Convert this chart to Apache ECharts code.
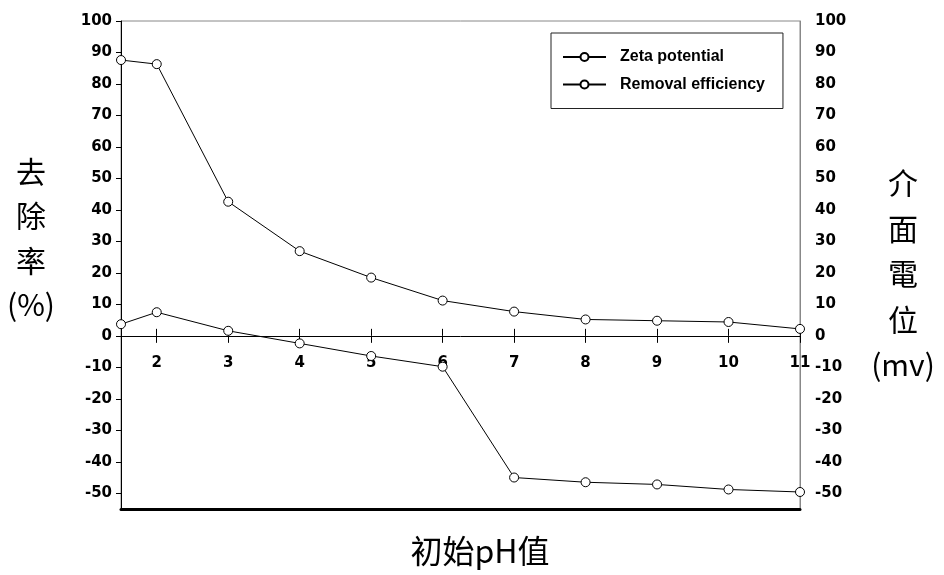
<!DOCTYPE html>
<html><head><meta charset="utf-8">
<script src="https://cdn.jsdelivr.net/npm/echarts@6/dist/echarts.min.js"></script>
<style>html,body{margin:0;padding:0;background:#fff}#c{width:944px;height:575px}</style>
</head><body><div id="c"></div>
<script>
const phValues = [1.5, 2, 3, 4, 5, 6, 7, 8, 9, 10, 11];
const zetaPotential = [3.7, 7.5, 1.6, -2.4, -6.4, -9.8, -45.0, -46.5, -47.2, -48.8, -49.6];
const removalEfficiency = [87.6, 86.3, 42.6, 26.9, 18.5, 11.2, 7.7, 5.2, 4.8, 4.4, 2.2];
const xTickLabels = [2, 3, 4, 5, 6, 7, 8, 9, 10, 11];
const yTickLabels = [-50, -40, -30, -20, -10, 0, 10, 20, 30, 40, 50, 60, 70, 80, 90, 100];
const seriesNames = ['Zeta potential', 'Removal efficiency'];

const Y_MIN = -55, Y_MAX = 100;
const GRID = {left: 121, right: 144, top: 21, bottom: 66};
const plotH = 575 - GRID.top - GRID.bottom;
const zeroFromBottom = plotH * (0 - Y_MIN) / (Y_MAX - Y_MIN);
const zeroFromTop = plotH - zeroFromBottom;

const tickFont = {fontFamily: 'DejaVu Sans', fontWeight: 'bold', fontSize: 15, color: '#000'};
const pairs = arr => phValues.map((x, i) => [x, arr[i]]);
const lineSeries = (name, data) => ({
  name, type: 'line', data: pairs(data), xAxisIndex: 0, yAxisIndex: 0,
  symbol: 'circle', symbolSize: 9, clip: false,
  lineStyle: {color: '#000', width: 1},
  itemStyle: {color: '#fff', borderColor: '#000', borderWidth: 1},
  emphasis: {disabled: true}
});
const baseX = {type: 'value', min: 1.5, max: 11, splitLine: {show: false}};

const chart = echarts.init(document.getElementById('c'));
chart.setOption({
  animation: false,
  backgroundColor: '#fff',
  grid: {...GRID, show: true, borderColor: '#888', borderWidth: 1, backgroundColor: 'transparent'},
  legend: {
    orient: 'vertical', left: 551, top: 33,
    padding: [16, 18, 16, 11],
    itemWidth: 43, itemHeight: 10, itemGap: 11.5,
    borderColor: '#222', borderWidth: 1,
    textStyle: {fontFamily: 'Liberation Sans', fontWeight: 'bold', fontSize: 16, color: '#000', padding: [0, 0, 0, 9]},
    data: seriesNames
  },
  xAxis: [
    {...baseX, position: 'bottom', offset: -zeroFromBottom,
     axisLine: {onZero: false, lineStyle: {color: '#000', width: 1}},
     axisTick: {show: true, inside: false, length: 7, customValues: xTickLabels, lineStyle: {color: '#000'}},
     axisLabel: {customValues: xTickLabels, margin: 20, ...tickFont}},
    {...baseX, position: 'top', offset: -zeroFromTop,
     axisLine: {onZero: false, show: false},
     axisTick: {show: true, inside: false, length: 7, customValues: xTickLabels, lineStyle: {color: '#000'}},
     axisLabel: {show: false}},
    {...baseX, position: 'bottom', offset: 0,
     axisLine: {onZero: false, lineStyle: {color: '#000', width: 3}},
     axisTick: {show: false}, axisLabel: {show: false}}
  ],
  yAxis: [
    {type: 'value', min: Y_MIN, max: Y_MAX, position: 'left',
     axisLine: {show: true, onZero: false, lineStyle: {color: '#000', width: 1}},
     axisTick: {show: true, inside: false, length: 5, customValues: yTickLabels, lineStyle: {color: '#000'}},
     axisLabel: {customValues: yTickLabels, margin: 9, ...tickFont},
     splitLine: {show: false}},
    {type: 'value', min: Y_MIN, max: Y_MAX, position: 'right',
     axisLine: {show: true, onZero: false, lineStyle: {color: '#888', width: 1}},
     axisTick: {show: false},
     axisLabel: {customValues: yTickLabels, margin: 15, ...tickFont},
     splitLine: {show: false}}
  ],
  graphic: [
    {type: 'text', x: 31, y: 238, style: {text: '去\n除\n率\n(%)', textAlign: 'center', textVerticalAlign: 'middle', lineHeight: 44.5, fontSize: 30, fontFamily: 'Noto Sans CJK TC', fill: '#000'}},
    {type: 'text', x: 903, y: 274, style: {text: '介\n面\n電\n位\n(mv)', textAlign: 'center', textVerticalAlign: 'middle', lineHeight: 45.5, fontSize: 30, fontFamily: 'Noto Sans CJK TC', fill: '#000'}},
    {type: 'text', x: 480, y: 551, style: {text: '初始pH值', textAlign: 'center', textVerticalAlign: 'middle', fontSize: 32, fontFamily: 'Noto Sans CJK TC', fill: '#000'}}
  ],
  series: [
    lineSeries(seriesNames[0], zetaPotential),
    lineSeries(seriesNames[1], removalEfficiency)
  ]
});
</script></body></html>
